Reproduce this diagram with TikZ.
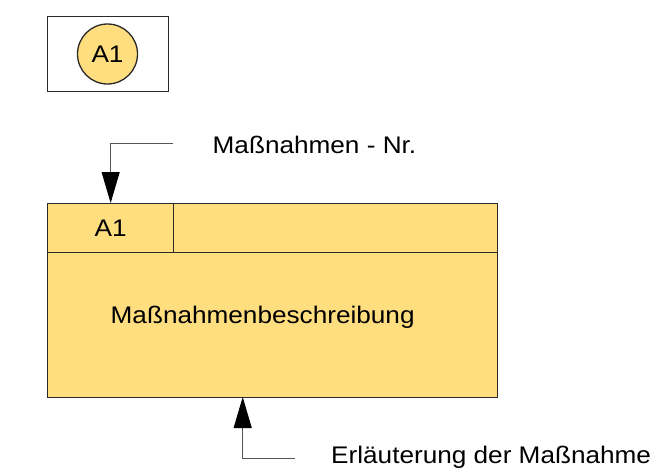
\documentclass[tikz,border=0pt]{standalone}
\usepackage{fontspec}
\setmainfont{Liberation Sans}[FakeStretch=1.09]
\usetikzlibrary{arrows.meta}
\definecolor{fillY}{HTML}{FFDE80}
\definecolor{edgeG}{HTML}{2A2A2A}
\definecolor{connG}{HTML}{555555}
\begin{document}
\begin{tikzpicture}[x=1pt,y=-1pt,
  box/.style={draw=edgeG, line width=1.3pt, fill=fillY, inner sep=0pt},
  frame/.style={draw=edgeG, line width=1.3pt, inner sep=0pt},
  txt/.style={inner sep=0pt, font=\fontsize{24}{28}\selectfont},
  conn/.style={draw=connG, line width=1pt, -{Triangle[length=31pt,width=18pt,color=black,fill=black]}}]
\useasboundingbox (0,0) rectangle (658,469);
\fill[white] (0,0) rectangle (658,469);
% legend
\node[frame, anchor=north west, minimum width=121pt, minimum height=75pt] (legend) at (47,16) {};
\node[box, circle, minimum size=60pt, txt, inner sep=0pt] (circ) at (107.5,54) {A1};
% main box
\node[box, anchor=north west, minimum width=450pt, minimum height=145pt] (body) at (47,252) {};
\node[box, anchor=north west, minimum width=126pt, minimum height=49pt, txt] (num) at (47,203) {A1};
\node[box, anchor=north west, minimum width=324pt, minimum height=49pt] (hdr) at (173,203) {};
\node[txt, anchor=base west] (desc) at (110.5,323.3) {Maßnahmenbeschreibung};
% labels
\node[txt, anchor=base west] (nrlbl) at (212.5,153.3) {Maßnahmen - Nr.};
\node[txt, anchor=base west] (erl) at (331,463.5) {Erläuterung der Maßnahme};
% connectors
\coordinate (c1) at (173,143);
\draw[conn] (c1) -| (num.north);
\coordinate (c2) at (295,458.7);
\coordinate (t2) at (242.7,397);
\draw[conn] (c2) -| (t2);
\end{tikzpicture}
\end{document}
